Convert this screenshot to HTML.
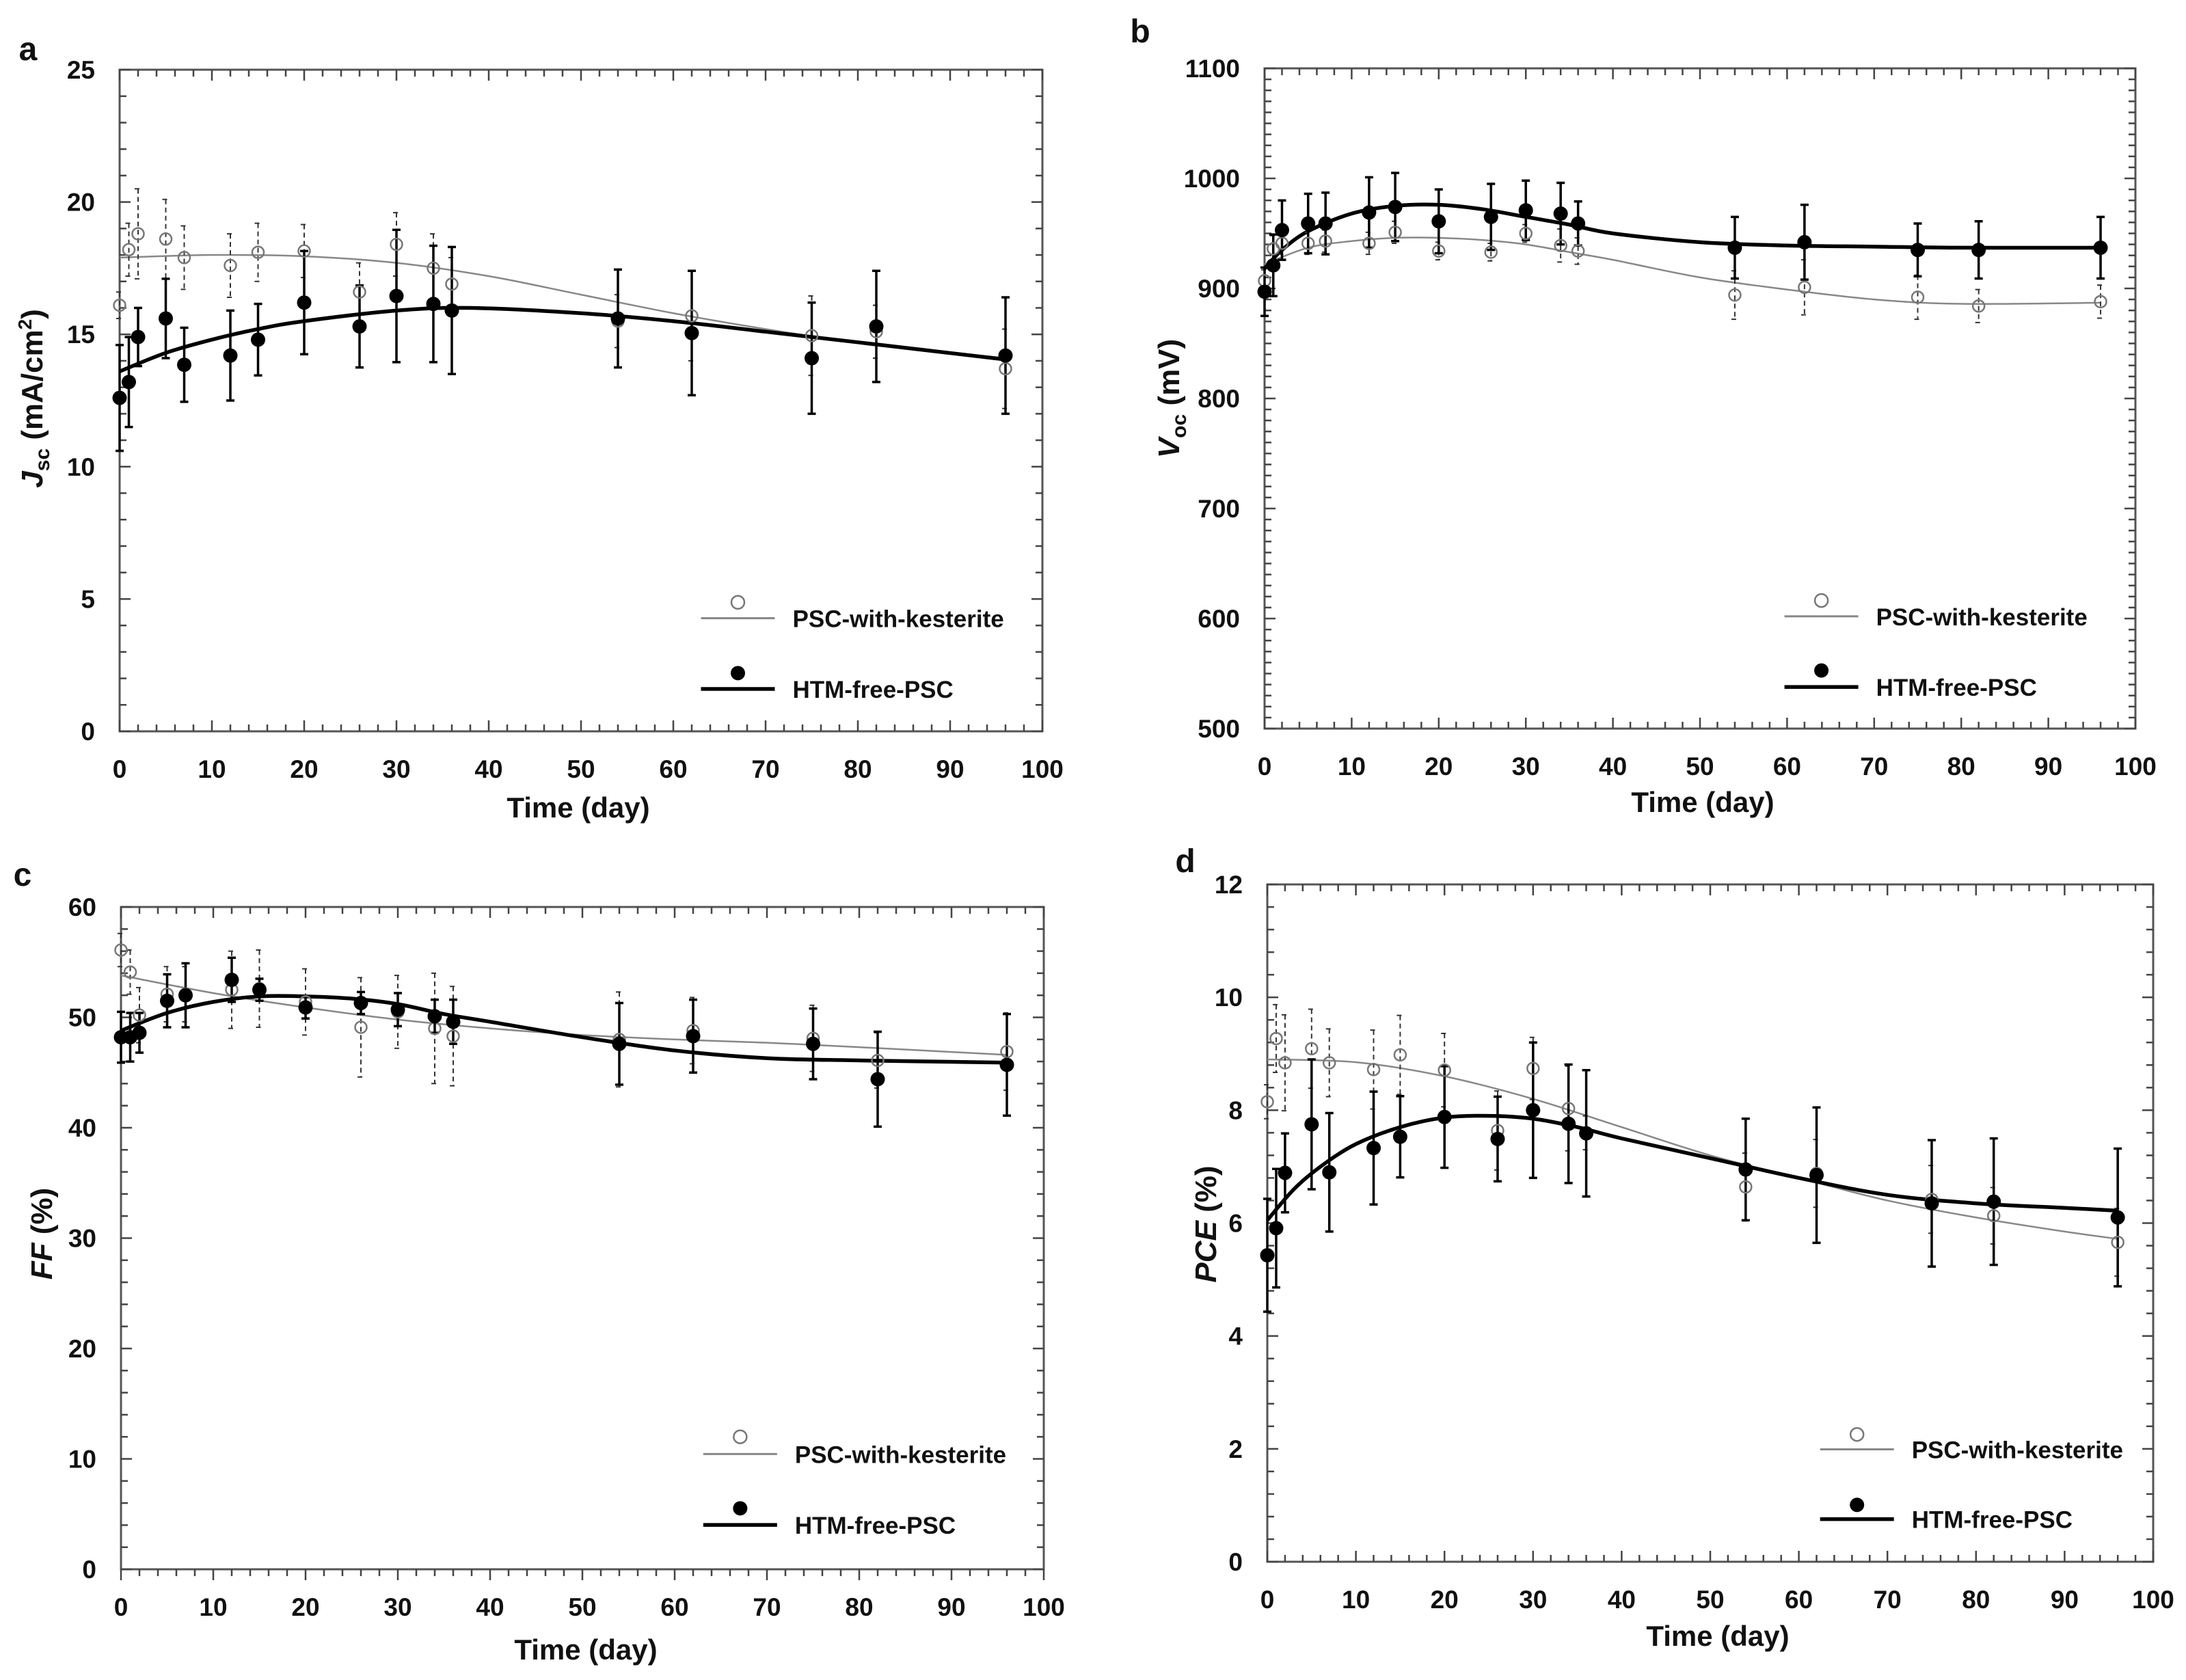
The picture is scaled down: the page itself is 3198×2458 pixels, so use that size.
<!DOCTYPE html>
<html><head><meta charset="utf-8"><style>
html,body{margin:0;padding:0;background:#fff}
svg{display:block}
text{font-family:"Liberation Sans",Arial,sans-serif;font-weight:bold;fill:#111}
</style></head><body>
<svg id="fig" width="3198" height="2458" viewBox="0 0 3198 2458" xmlns="http://www.w3.org/2000/svg"></svg>
<script>
const days = [0,1,2,5,7,12,15,20,26,30,34,36,54,62,75,82,96];

// Panel a: Jsc
const jscKest = [16.1,18.2,18.8,18.6,17.9,17.6,18.1,18.15,16.6,18.4,17.5,16.9,15.5,15.7,14.95,15.1,13.7];
const jscKestErr = [0.5,1,1.7,1.5,1.2,1.2,1.1,1,1.1,1.2,1.3,1,1,1.7,1.5,1,1.5];
const jscFree = [12.6,13.2,14.9,15.6,13.85,14.2,14.8,16.2,15.3,16.45,16.15,15.9,15.6,15.05,14.1,15.3,14.2];
const jscFreeErr = [2,1.7,1.1,1.5,1.4,1.7,1.35,1.95,1.55,2.5,2.2,2.4,1.85,2.35,2.1,2.1,2.2];
const jscKestFitX = [0,10,20,30,40,50,60,70,80,96];
const jscKestFitY = [17.9,18.0,17.95,17.7,17.2,16.5,15.8,15.2,14.7,14.1];
const jscFreeFitX = [0,5,10,15,20,30,38,50,60,70,80,96];
const jscFreeFitY = [13.6,14.3,14.8,15.2,15.5,15.9,16.0,15.8,15.5,15.1,14.7,14.05];

// Panel b: Voc
const vocKest = [907,936,941,941,943,941,951,934,933,950,939,934,894,901,892,884,888];
const vocKestErr = [10,12,10,10,10,10,10,8,8,8,15,12,22,25,20,15,15];
const vocFree = [897,921,953,959,959,969,974,961,965,971,968,959,937,942,935,935,937];
const vocFreeErr = [22,28,27,27,28,32,31,29,30,27,28,20,28,34,24,26,28];
const vocKestFitX = [0,5,10,15,20,25,30,35,40,50,60,70,80,96];
const vocKestFitY = [922,937,943,946,946,944,940,933,926,910,899,890,886,887];
const vocFreeFitX = [0,2,5,10,15,20,25,30,35,40,50,60,70,80,96];
const vocFreeFitY = [918,935,952,968,975,976,972,965,958,950,942,939,938,937,937];

// Panel c: FF
const ffKest = [56.1,54.1,50.2,52.1,52.1,52.5,52.6,51.4,49.1,50.5,49,48.3,48,48.8,48.1,46.1,46.9];
const ffKestErr = [1.5,2,2.5,2.5,2.5,3.5,3.5,3,4.5,3.3,5,4.5,4.3,3,3,2.5,3.5];
const ffFree = [48.2,48.2,48.6,51.5,52,53.4,52.5,50.9,51.3,50.7,50.1,49.6,47.6,48.3,47.6,44.4,45.7];
const ffFreeErr = [2.3,2.2,1.8,2.4,2.9,2,1,1,1,1.5,1.5,2,3.7,3.3,3.2,4.3,4.6];
const ffKestFitX = [0,10,20,30,40,50,60,70,80,96];
const ffKestFitY = [53.8,52.2,50.9,49.8,49.0,48.4,48.0,47.7,47.3,46.6];
const ffFreeFitX = [0,5,10,15,20,25,30,35,40,50,60,70,80,96];
const ffFreeFitY = [48.8,50.4,51.4,51.9,51.9,51.7,51.2,50.3,49.6,48.2,47.0,46.3,46.1,45.9];

// Panel d: PCE
const pceKest = [8.15,9.27,8.84,9.09,8.84,8.72,8.98,8.71,7.64,8.74,8.03,7.6,6.64,6.88,6.42,6.13,5.66];
const pceKestErr = [0.3,0.6,0.85,0.7,0.6,0.7,0.7,0.65,0.7,0.55,0.75,0.3,0.6,0.6,0.6,0.5,0.6];
const pceFree = [5.43,5.91,6.89,7.75,6.9,7.33,7.53,7.88,7.49,8.0,7.76,7.59,6.95,6.85,6.35,6.38,6.1];
const pceFreeErr = [1.0,1.05,0.7,1.15,1.05,1.0,0.72,0.9,0.75,1.2,1.05,1.12,0.9,1.2,1.12,1.12,1.22];
const pceKestFitX = [0,10,20,30,40,50,60,70,80,90,96];
const pceKestFitY = [8.9,8.85,8.6,8.2,7.7,7.2,6.8,6.4,6.1,5.85,5.72];
const pceFreeFitX = [0,3,6,10,15,20,25,30,35,40,50,60,70,80,90,96];
const pceFreeFitY = [6.05,6.6,7.0,7.4,7.7,7.87,7.9,7.85,7.7,7.5,7.15,6.8,6.5,6.35,6.27,6.22];

const xTicks = [0,10,20,30,40,50,60,70,80,90,100];

const NS = "http://www.w3.org/2000/svg";
const svg = document.getElementById('fig');
function mk(tag, attrs, parent){
  const e = document.createElementNS(NS, tag);
  for (const k in attrs) e.setAttribute(k, attrs[k]);
  (parent||svg).appendChild(e);
  return e;
}
function smooth(pts){
  let d = 'M' + pts[0][0] + ',' + pts[0][1];
  for (let i=0;i<pts.length-1;i++){
    const p0 = pts[i-1]||pts[i], p1=pts[i], p2=pts[i+1], p3=pts[i+2]||p2;
    const c1x=p1[0]+(p2[0]-p0[0])/6, c1y=p1[1]+(p2[1]-p0[1])/6;
    const c2x=p2[0]-(p3[0]-p1[0])/6, c2y=p2[1]-(p3[1]-p1[1])/6;
    d += ' C'+c1x+','+c1y+' '+c2x+','+c2y+' '+p2[0]+','+p2[1];
  }
  return d;
}

function panel(cfg){
  const g = mk('g', {});
  
  
  const X = v => cfg.x0 + (v/100)*(cfg.x1-cfg.x0);
  const Y = v => cfg.y1 - (v-cfg.ymin)/(cfg.ymax-cfg.ymin)*(cfg.y1-cfg.y0);
  const fr = mk('rect', {x:cfg.x0,y:cfg.y0,width:cfg.x1-cfg.x0,height:cfg.y1-cfg.y0,fill:'none',stroke:'#555','stroke-width':3}, g);
  
  
  const tg = mk('g', {stroke:'#444','stroke-width':2.5}, g);
  
  
  for (let v=0; v<=100; v+=2){
    const maj = v%10===0, L = maj?16:10, x=X(v);
    if (cfg.outX) mk('line',{x1:x,x2:x,y1:cfg.y1,y2:cfg.y1+L},tg);
    else mk('line',{x1:x,x2:x,y1:cfg.y1,y2:cfg.y1-L},tg);
    mk('line',{x1:x,x2:x,y1:cfg.y0,y2:cfg.y0+L},tg);
  }
  const n = Math.round((cfg.ymax-cfg.ymin)/cfg.minor);
  for (let i=0;i<=n;i++){
    const v = cfg.ymin + i*cfg.minor, y=Y(v);
    const maj = Math.abs(((v-cfg.ymin)/cfg.major) - Math.round((v-cfg.ymin)/cfg.major))<1e-6;
    const L = maj?16:10;
    mk('line',{x1:cfg.x0,x2:cfg.x0+L,y1:y,y2:y},tg);
    mk('line',{x1:cfg.x1,x2:cfg.x1-L,y1:y,y2:y},tg);
  }
  xTicks.forEach(v=>{
    const t = mk('text',{x:X(v),y:cfg.y1+68,'text-anchor':'middle','font-size':37},g);
    t.textContent = v;
    
    
  });
  for (let v=cfg.ymin; v<=cfg.ymax+1e-9; v+=cfg.major){
    const t = mk('text',{x:cfg.x0-36,y:Y(v)+13,'text-anchor':'end','font-size':37},g);
    t.textContent = Math.round(v*100)/100;
    
    
  }
  const xt = mk('text',{x:cfg.xtx,y:cfg.xty,'text-anchor':'middle','font-size':42},g);
  xt.textContent = 'Time (day)';
  
  
  const yt = mk('text',{x:0,y:0,'text-anchor':'middle','font-size':44,transform:'translate('+cfg.ytx+','+cfg.yty+') rotate(-90)'},g);
  yt.innerHTML = cfg.ytitle;
  
  
  const pl = mk('text',{x:cfg.lx,y:cfg.ly,'font-size':48,'text-anchor':'middle'},g);
  pl.textContent = cfg.letter;
  
  
  const fk = mk('path',{d:smooth(cfg.kfx.map((x,i)=>[X(x),Y(cfg.kfy[i])])),fill:'none',stroke:'#888','stroke-width':2.5},g);
  
  
  const ff = mk('path',{d:smooth(cfg.ffx.map((x,i)=>[X(x),Y(cfg.ffy[i])])),fill:'none',stroke:'#000','stroke-width':5.5},g);
  
  
  days.forEach((d,i)=>{
    const x=X(d), v=cfg.k[i], e=cfg.ke[i];
    const eb = mk('path',{d:'M'+x+','+Y(v+e)+'V'+Y(v-e)+'M'+(x-5)+','+Y(v+e)+'H'+(x+5)+'M'+(x-5)+','+Y(v-e)+'H'+(x+5),stroke:'#333','stroke-width':2,'stroke-dasharray':'7,5',fill:'none'},g);
    
    
  });
  days.forEach((d,i)=>{
    const x=X(d), v=cfg.f[i], e=cfg.fe[i];
    const eb = mk('path',{d:'M'+x+','+Y(v+e)+'V'+Y(v-e)+'M'+(x-6)+','+Y(v+e)+'H'+(x+6)+'M'+(x-6)+','+Y(v-e)+'H'+(x+6),stroke:'#000','stroke-width':3.5,fill:'none'},g);
    
    
  });
  days.forEach((d,i)=>{
    const c = mk('circle',{cx:X(d),cy:Y(cfg.k[i]),r:8.5,fill:'none',stroke:'#777','stroke-width':2.5},g);
    
    
  });
  days.forEach((d,i)=>{
    const c = mk('circle',{cx:X(d),cy:Y(cfg.f[i]),r:10.5,fill:'#000'},g);
    
    
  });
  const W = cfg.x1-cfg.x0, H = cfg.y1-cfg.y0;
  const lg = mk('g',{},g);
  
  
  const lx = cfg.x0 + cfg.leg[0]*W, lw = 108;
  const e1 = mk('g',{},lg);
  
  
  mk('circle',{cx:lx+lw/2,cy:cfg.y0+cfg.leg[1]*H,r:9.5,fill:'none',stroke:'#777','stroke-width':2.5},e1);
  mk('line',{x1:lx,x2:lx+lw,y1:cfg.y0+cfg.leg[2]*H,y2:cfg.y0+cfg.leg[2]*H,stroke:'#888','stroke-width':3},e1);
  const t1 = mk('text',{x:lx+lw+26,y:cfg.y0+cfg.leg[2]*H+13,'font-size':35},e1);
  t1.textContent = 'PSC-with-kesterite';
  const e2 = mk('g',{},lg);
  
  
  mk('circle',{cx:lx+lw/2,cy:cfg.y0+cfg.leg[3]*H,r:10.5,fill:'#000'},e2);
  mk('line',{x1:lx,x2:lx+lw,y1:cfg.y0+cfg.leg[4]*H,y2:cfg.y0+cfg.leg[4]*H,stroke:'#000','stroke-width':5.5},e2);
  const t2 = mk('text',{x:lx+lw+26,y:cfg.y0+cfg.leg[4]*H+13,'font-size':35},e2);
  t2.textContent = 'HTM-free-PSC';
}

panel({name:'panel-a-jsc',letter:'a',lx:41,ly:88,x0:175,x1:1525,y0:102,y1:1070,ymin:0,ymax:25,major:5,minor:1,
  xtx:846,xty:1196,ytx:62,yty:583,ytitle:'<tspan font-style="italic">J</tspan><tspan font-size="30" dy="10">sc</tspan><tspan dy="-10"> (mA/cm</tspan><tspan font-size="28" dy="-16">2</tspan><tspan dy="16">)</tspan>',
  k:jscKest,ke:jscKestErr,f:jscFree,fe:jscFreeErr,kfx:jscKestFitX,kfy:jscKestFitY,ffx:jscFreeFitX,ffy:jscFreeFitY,
  leg:[0.63,0.805,0.829,0.912,0.936]});
panel({name:'panel-b-voc',letter:'b',lx:1668,ly:62,x0:1850,x1:3124,y0:100,y1:1066,ymin:500,ymax:1100,major:100,minor:10,
  xtx:2491,xty:1188,ytx:1725,yty:583,ytitle:'<tspan font-style="italic">V</tspan><tspan font-size="30" dy="10">oc</tspan><tspan dy="-10"> (mV)</tspan>',
  k:vocKest,ke:vocKestErr,f:vocFree,fe:vocFreeErr,kfx:vocKestFitX,kfy:vocKestFitY,ffx:vocFreeFitX,ffy:vocFreeFitY,
  leg:[0.597,0.806,0.830,0.912,0.937]});
panel({name:'panel-c-ff',letter:'c',lx:33,ly:1296,x0:177,x1:1527,y0:1327,y1:2296,ymin:0,ymax:60,major:10,minor:2,outX:true,
  xtx:857,xty:2428,ytx:76,yty:1805,ytitle:'<tspan font-style="italic">FF</tspan><tspan> (%)</tspan>',
  k:ffKest,ke:ffKestErr,f:ffFree,fe:ffFreeErr,kfx:ffKestFitX,kfy:ffKestFitY,ffx:ffFreeFitX,ffy:ffFreeFitY,
  leg:[0.631,0.80,0.826,0.908,0.933]});
panel({name:'panel-d-pce',letter:'d',lx:1734,ly:1276,x0:1854,x1:3150,y0:1294,y1:2285,ymin:0,ymax:12,major:2,minor:0.4,
  xtx:2513,xty:2408,ytx:1779,yty:1791,ytitle:'<tspan font-style="italic">PCE</tspan><tspan> (%)</tspan>',
  k:pceKest,ke:pceKestErr,f:pceFree,fe:pceFreeErr,kfx:pceKestFitX,kfy:pceKestFitY,ffx:pceFreeFitX,ffy:pceFreeFitY,
  leg:[0.624,0.812,0.834,0.916,0.937]});
</script>
</body></html>
